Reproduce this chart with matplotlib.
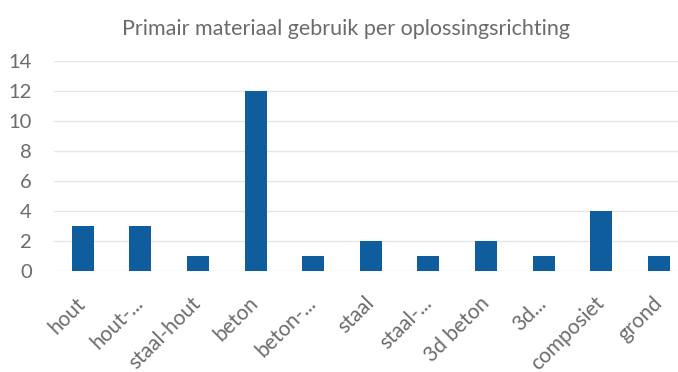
import numpy as np
import matplotlib
matplotlib.use('Agg')
from matplotlib import pyplot as plt

plt.rcParams['font.family'] = ['Lato', 'DejaVu Sans']

# === Data ===
categories = ['hout', 'hout-...', 'staal-hout', 'beton', 'beton-...', 'staal',
              'staal-...', '3d beton', '3d...', 'composiet', 'grond']
values = [3, 3, 1, 12, 1, 2, 1, 2, 1, 4, 1]
yticks = [0, 2, 4, 6, 8, 10, 12, 14]
title = 'Primair materiaal gebruik per oplossingsrichting'

# === Plot ===
txt = '#6b6b6b'
fig = plt.figure(figsize=(6.78, 3.72), dpi=100)
ax = fig.add_axes([54/678, 1 - 271/372, 1 - 54/678, 210/372])

x = np.arange(len(categories))
ax.bar(x, values, width=0.38, color='#0f5d9c', zorder=3)

ax.set_ylim(0, 14)
ax.set_xlim(-0.5, -0.5 + 624/57.6)
ax.set_yticks(yticks)
ax.set_xticks(x)
ax.set_xticklabels(categories, rotation=45, ha='right', va='center',
                   rotation_mode='anchor', fontsize=15, color=txt)
ax.tick_params(axis='y', labelsize=14.5, colors=txt, length=0, pad=16)
ax.tick_params(axis='x', length=0, pad=21)
ax.grid(axis='y', color='#e6e6e6', linewidth=1, zorder=0)
for s in ax.spines.values():
    s.set_visible(False)

fig.text(346/678, 1 - 29/372, title, ha='center', va='center', fontsize=15.5, color=txt)

fig.savefig('out.png', dpi=100)
